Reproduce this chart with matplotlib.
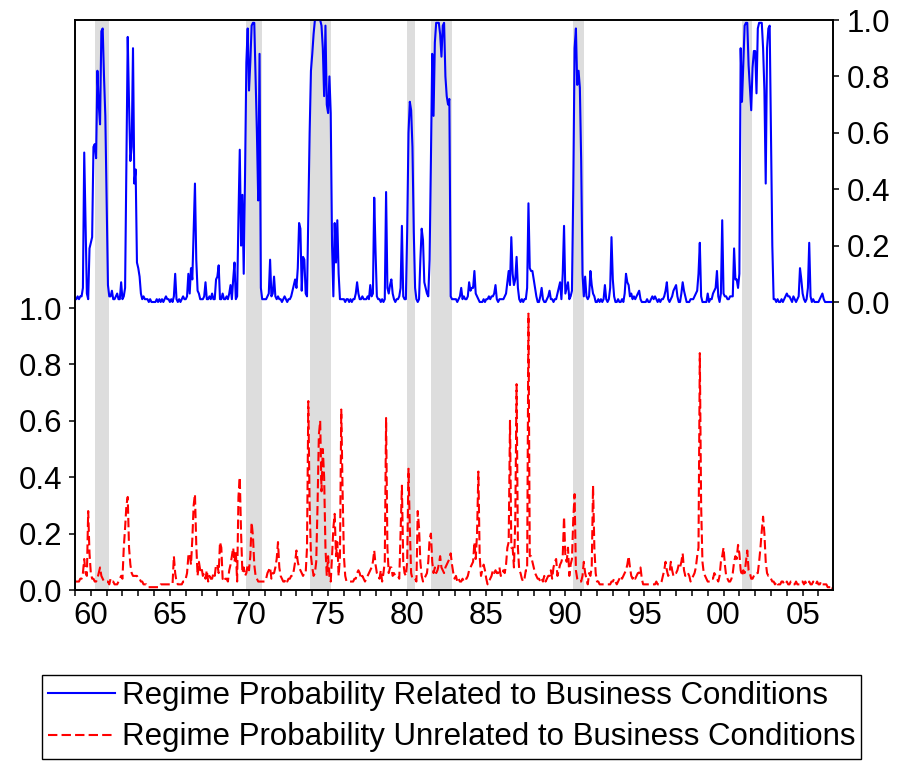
import numpy as np
import matplotlib
matplotlib.use("Agg")
from matplotlib import pyplot as plt
from matplotlib.lines import Line2D

first_year = 1959  # monthly data, 1959:01 - 2006:12

# regime probability related to business conditions (right scale)
business = [
    0.01, 0.01, 0.02, 0.01, 0.02, 0.02, 0.05, 0.53, 0.28, 0.03, 0.01, 0.19,  # 1959
    0.21, 0.23, 0.55, 0.56, 0.51, 0.82, 0.70, 0.63, 0.96, 0.97, 0.80, 0.66,  # 1960
    0.35, 0.06, 0.02, 0.02, 0.04, 0.01, 0.01, 0.02, 0.03, 0.01, 0.01, 0.07,
    0.01, 0.02, 0.05, 0.50, 0.94, 0.70, 0.50, 0.55, 0.90, 0.42, 0.47, 0.14,
    0.12, 0.09, 0.03, 0.01, 0.02, 0.01, 0.01, 0.01, 0.00, 0.01, 0.00, 0.00,
    0.00, 0.00, 0.01, 0.00, 0.01, 0.00, 0.01, 0.00, 0.01, 0.02, 0.01, 0.01,
    0.00, 0.01, 0.00, 0.02, 0.10, 0.01, 0.00, 0.01, 0.00, 0.01, 0.02, 0.01,  # 1965
    0.01, 0.02, 0.10, 0.03, 0.12, 0.08, 0.25, 0.42, 0.15, 0.04, 0.03, 0.01,
    0.01, 0.01, 0.02, 0.07, 0.01, 0.01, 0.02, 0.01, 0.03, 0.01, 0.01, 0.08,
    0.09, 0.13, 0.01, 0.01, 0.03, 0.01, 0.01, 0.02, 0.01, 0.03, 0.06, 0.01,
    0.08, 0.14, 0.01, 0.02, 0.30, 0.54, 0.20, 0.38, 0.10, 0.45, 0.85, 0.97,
    0.75, 0.85, 0.98, 0.99, 0.99, 0.80, 0.60, 0.36, 0.88, 0.05, 0.01, 0.01,  # 1970
    0.01, 0.01, 0.02, 0.03, 0.15, 0.02, 0.03, 0.09, 0.02, 0.01, 0.02, 0.01,
    0.01, 0.00, 0.01, 0.02, 0.01, 0.00, 0.01, 0.01, 0.02, 0.04, 0.06, 0.08,
    0.05, 0.12, 0.28, 0.26, 0.04, 0.16, 0.15, 0.03, 0.02, 0.30, 0.60, 0.82,
    0.88, 0.95, 1.00, 1.00, 1.00, 1.00, 1.00, 0.98, 0.90, 0.73, 0.98, 0.70,
    0.67, 0.80, 0.67, 0.20, 0.02, 0.28, 0.14, 0.29, 0.10, 0.01, 0.01, 0.01,  # 1975
    0.01, 0.00, 0.01, 0.01, 0.00, 0.01, 0.00, 0.01, 0.01, 0.03, 0.07, 0.03,
    0.01, 0.01, 0.02, 0.01, 0.01, 0.01, 0.02, 0.01, 0.06, 0.02, 0.03, 0.37,
    0.18, 0.02, 0.01, 0.01, 0.00, 0.01, 0.00, 0.01, 0.39, 0.05, 0.03, 0.06,
    0.08, 0.03, 0.01, 0.00, 0.01, 0.01, 0.02, 0.05, 0.27, 0.02, 0.01, 0.01,
    0.25, 0.60, 0.71, 0.68, 0.55, 0.25, 0.05, 0.01, 0.00, 0.01, 0.15, 0.26,  # 1980
    0.22, 0.07, 0.05, 0.03, 0.02, 0.15, 0.50, 0.88, 0.66, 0.92, 0.99, 0.99,
    0.99, 0.95, 0.87, 0.98, 0.99, 0.80, 0.73, 0.70, 0.72, 0.02, 0.01, 0.01,
    0.01, 0.01, 0.00, 0.01, 0.02, 0.05, 0.01, 0.02, 0.01, 0.01, 0.02, 0.07,
    0.04, 0.05, 0.05, 0.11, 0.03, 0.02, 0.01, 0.00, 0.00, 0.00, 0.01, 0.00,
    0.01, 0.01, 0.02, 0.01, 0.02, 0.02, 0.03, 0.06, 0.01, 0.00, 0.01, 0.01,  # 1985
    0.01, 0.01, 0.02, 0.03, 0.07, 0.11, 0.06, 0.23, 0.10, 0.06, 0.08, 0.16,
    0.05, 0.01, 0.00, 0.01, 0.00, 0.01, 0.01, 0.05, 0.35, 0.12, 0.11, 0.11,
    0.08, 0.05, 0.02, 0.00, 0.00, 0.02, 0.05, 0.01, 0.00, 0.00, 0.01, 0.02,
    0.04, 0.01, 0.01, 0.00, 0.01, 0.01, 0.03, 0.05, 0.07, 0.01, 0.10, 0.27,
    0.03, 0.05, 0.07, 0.01, 0.02, 0.04, 0.40, 0.90, 0.97, 0.77, 0.82, 0.76,  # 1990
    0.50, 0.10, 0.02, 0.09, 0.02, 0.01, 0.02, 0.11, 0.06, 0.03, 0.02, 0.00,
    0.00, 0.01, 0.00, 0.01, 0.00, 0.01, 0.06, 0.01, 0.00, 0.01, 0.05, 0.23,
    0.08, 0.02, 0.00, 0.00, 0.01, 0.00, 0.00, 0.01, 0.00, 0.03, 0.10, 0.07,
    0.06, 0.02, 0.03, 0.01, 0.02, 0.01, 0.02, 0.03, 0.04, 0.01, 0.00, 0.00,
    0.00, 0.00, 0.01, 0.00, 0.00, 0.01, 0.02, 0.01, 0.02, 0.01, 0.00, 0.01,  # 1995
    0.00, 0.01, 0.01, 0.02, 0.04, 0.07, 0.01, 0.00, 0.01, 0.02, 0.04, 0.05,
    0.06, 0.02, 0.00, 0.00, 0.03, 0.07, 0.04, 0.02, 0.00, 0.00, 0.00, 0.01,
    0.01, 0.01, 0.02, 0.03, 0.04, 0.10, 0.21, 0.02, 0.00, 0.00, 0.00, 0.00,
    0.03, 0.00, 0.01, 0.01, 0.03, 0.04, 0.05, 0.11, 0.02, 0.00, 0.03, 0.29,
    0.03, 0.02, 0.02, 0.01, 0.01, 0.02, 0.02, 0.02, 0.19, 0.08, 0.08, 0.05,  # 2000
    0.10, 0.90, 0.71, 0.85, 0.98, 0.99, 0.99, 0.84, 0.76, 0.68, 0.83, 0.89,
    0.89, 0.74, 0.97, 0.99, 0.99, 0.99, 0.90, 0.75, 0.42, 0.90, 0.97, 0.98,
    0.60, 0.20, 0.01, 0.01, 0.00, 0.01, 0.00, 0.00, 0.01, 0.00, 0.01, 0.02,
    0.03, 0.02, 0.02, 0.01, 0.00, 0.02, 0.01, 0.00, 0.01, 0.02, 0.12, 0.08,
    0.03, 0.01, 0.00, 0.01, 0.05, 0.21, 0.02, 0.00, 0.01, 0.00, 0.00, 0.00,  # 2005
    0.00, 0.01, 0.02, 0.03, 0.01, 0.00, 0.00, 0.00, 0.00, 0.00, 0.00, 0.00,
]

# regime probability unrelated to business conditions (left scale)
other = [
    0.03, 0.03, 0.03, 0.03, 0.04, 0.04, 0.06, 0.11, 0.06, 0.05, 0.28, 0.13,  # 1959
    0.06, 0.04, 0.04, 0.03, 0.03, 0.04, 0.06, 0.08, 0.05, 0.04, 0.03, 0.03,  # 1960
    0.03, 0.03, 0.02, 0.04, 0.03, 0.03, 0.02, 0.02, 0.02, 0.03, 0.04, 0.05,
    0.04, 0.15, 0.22, 0.30, 0.33, 0.15, 0.09, 0.06, 0.05, 0.05, 0.05, 0.05,
    0.04, 0.04, 0.03, 0.03, 0.02, 0.02, 0.02, 0.01, 0.01, 0.01, 0.01, 0.01,
    0.01, 0.01, 0.01, 0.01, 0.01, 0.02, 0.02, 0.02, 0.02, 0.02, 0.02, 0.02,
    0.02, 0.02, 0.02, 0.12, 0.06, 0.03, 0.02, 0.02, 0.02, 0.02, 0.03, 0.03,  # 1965
    0.04, 0.06, 0.12, 0.13, 0.09, 0.18, 0.30, 0.34, 0.16, 0.05, 0.10, 0.07,
    0.08, 0.05, 0.06, 0.04, 0.07, 0.03, 0.05, 0.04, 0.04, 0.06, 0.05, 0.09,
    0.09, 0.06, 0.17, 0.15, 0.04, 0.03, 0.04, 0.04, 0.03, 0.07, 0.09, 0.12,
    0.15, 0.10, 0.14, 0.03, 0.33, 0.40, 0.20, 0.06, 0.08, 0.05, 0.06, 0.09,
    0.07, 0.12, 0.24, 0.19, 0.09, 0.05, 0.04, 0.03, 0.03, 0.03, 0.03, 0.03,  # 1970
    0.03, 0.04, 0.06, 0.07, 0.08, 0.04, 0.06, 0.06, 0.08, 0.11, 0.17, 0.08,
    0.05, 0.04, 0.03, 0.03, 0.04, 0.03, 0.04, 0.04, 0.05, 0.05, 0.07, 0.10,
    0.14, 0.10, 0.08, 0.07, 0.06, 0.05, 0.06, 0.06, 0.15, 0.67, 0.30, 0.12,
    0.08, 0.05, 0.06, 0.10, 0.30, 0.55, 0.60, 0.35, 0.50, 0.40, 0.15, 0.05,
    0.12, 0.05, 0.03, 0.12, 0.22, 0.27, 0.12, 0.17, 0.05, 0.12, 0.64, 0.35,  # 1975
    0.12, 0.05, 0.03, 0.03, 0.03, 0.03, 0.03, 0.03, 0.04, 0.04, 0.06, 0.07,
    0.06, 0.04, 0.05, 0.04, 0.03, 0.04, 0.05, 0.06, 0.07, 0.08, 0.10, 0.14,
    0.09, 0.06, 0.05, 0.04, 0.07, 0.03, 0.06, 0.10, 0.61, 0.15, 0.06, 0.08,
    0.08, 0.05, 0.06, 0.05, 0.05, 0.05, 0.04, 0.20, 0.37, 0.10, 0.06, 0.05,
    0.10, 0.43, 0.22, 0.06, 0.04, 0.04, 0.04, 0.03, 0.28, 0.22, 0.10, 0.05,  # 1980
    0.03, 0.04, 0.05, 0.06, 0.10, 0.18, 0.20, 0.10, 0.06, 0.08, 0.06, 0.07,
    0.09, 0.12, 0.08, 0.07, 0.06, 0.08, 0.09, 0.10, 0.11, 0.13, 0.09, 0.06,
    0.04, 0.05, 0.03, 0.04, 0.03, 0.03, 0.04, 0.03, 0.04, 0.04, 0.05, 0.07,
    0.08, 0.09, 0.10, 0.17, 0.11, 0.20, 0.42, 0.12, 0.05, 0.07, 0.09, 0.07,
    0.04, 0.02, 0.03, 0.04, 0.05, 0.07, 0.06, 0.07, 0.06, 0.06, 0.08, 0.05,  # 1985
    0.05, 0.07, 0.06, 0.09, 0.15, 0.17, 0.60, 0.15, 0.15, 0.08, 0.25, 0.73,
    0.15, 0.07, 0.06, 0.04, 0.03, 0.04, 0.07, 0.07, 0.98, 0.12, 0.12, 0.10,
    0.08, 0.06, 0.05, 0.04, 0.04, 0.03, 0.04, 0.03, 0.05, 0.03, 0.04, 0.05,
    0.05, 0.07, 0.04, 0.08, 0.10, 0.11, 0.05, 0.07, 0.09, 0.10, 0.12, 0.26,
    0.12, 0.10, 0.15, 0.05, 0.09, 0.11, 0.25, 0.34, 0.07, 0.04, 0.03, 0.03,  # 1990
    0.03, 0.05, 0.10, 0.06, 0.04, 0.02, 0.06, 0.05, 0.08, 0.37, 0.15, 0.06,
    0.03, 0.03, 0.02, 0.02, 0.02, 0.02, 0.02, 0.02, 0.02, 0.02, 0.02, 0.03,
    0.03, 0.04, 0.03, 0.02, 0.03, 0.04, 0.05, 0.04, 0.05, 0.06, 0.07, 0.09,
    0.12, 0.08, 0.05, 0.04, 0.05, 0.04, 0.05, 0.06, 0.06, 0.08, 0.04, 0.02,
    0.02, 0.02, 0.02, 0.02, 0.02, 0.02, 0.02, 0.02, 0.02, 0.03, 0.02, 0.02,  # 1995
    0.02, 0.03, 0.05, 0.07, 0.10, 0.07, 0.05, 0.06, 0.10, 0.07, 0.05, 0.06,
    0.06, 0.07, 0.09, 0.08, 0.10, 0.13, 0.07, 0.05, 0.06, 0.06, 0.05, 0.03,
    0.04, 0.05, 0.06, 0.08, 0.12, 0.15, 0.84, 0.30, 0.10, 0.06, 0.05, 0.04,
    0.03, 0.03, 0.03, 0.04, 0.04, 0.06, 0.05, 0.04, 0.03, 0.05, 0.10, 0.12,
    0.15, 0.09, 0.05, 0.04, 0.03, 0.03, 0.04, 0.06, 0.10, 0.12, 0.11, 0.16,  # 2000
    0.13, 0.07, 0.05, 0.07, 0.06, 0.10, 0.14, 0.07, 0.06, 0.04, 0.04, 0.05,
    0.06, 0.06, 0.06, 0.10, 0.15, 0.21, 0.26, 0.20, 0.10, 0.06, 0.05, 0.05,
    0.04, 0.03, 0.03, 0.02, 0.03, 0.02, 0.02, 0.02, 0.03, 0.03, 0.02, 0.02,
    0.03, 0.02, 0.02, 0.03, 0.03, 0.02, 0.02, 0.03, 0.02, 0.02, 0.02, 0.03,
    0.03, 0.02, 0.03, 0.02, 0.02, 0.03, 0.02, 0.02, 0.03, 0.02, 0.02, 0.03,  # 2005
    0.02, 0.02, 0.03, 0.02, 0.02, 0.02, 0.02, 0.01, 0.01, 0.01, 0.00, 0.01,
]

# NBER recessions (shaded)
rec_start = [1960.25, 1969.83, 1973.83, 1980.00, 1981.50, 1990.50, 2001.17]
rec_end = [1961.12, 1970.83, 1975.17, 1980.50, 1982.83, 1991.17, 2001.83]

year_ticks = list(range(1960, 2006, 5))
year_labels = ['60', '65', '70', '75', '80', '85', '90', '95', '00', '05']
prob_ticks = [0.0, 0.2, 0.4, 0.6, 0.8, 1.0]
prob_labels = ['0.0', '0.2', '0.4', '0.6', '0.8', '1.0']

t = first_year + np.arange(len(business)) / 12.0

plt.rcParams['font.family'] = ['Liberation Sans', 'DejaVu Sans']
plt.rcParams['font.size'] = 22.5

W, H = 906, 761
fig = plt.figure(figsize=(W / 100, H / 100), dpi=100)
ax = fig.add_axes([75 / W, 1 - 590 / H, 758 / W, 570 / H])
ax2 = ax.twinx()

for a, b in zip(rec_start, rec_end):
    ax.axvspan(a, b, color='#dddddd', lw=0, zorder=0)

ax.plot(t, other, color='#ff0000', lw=1.5, dashes=(4.5, 2), zorder=2)
ax2.plot(t, business, color='#0000ff', lw=1.5, zorder=2)

span = 570 / 282.0
ax.set_xlim(1959.0, 2006.92)
ax.set_ylim(0, span)
ax2.set_ylim(1 - span, 1)

ax.set_xticks(year_ticks)
ax.set_xticklabels(year_labels)
ax.set_xticks(np.arange(1959, 2007), minor=True)
ax.set_yticks(prob_ticks)
ax.set_yticklabels(prob_labels)
ax2.set_yticks(prob_ticks)
ax2.set_yticklabels(prob_labels)

for a in (ax, ax2):
    for s in a.spines.values():
        s.set_linewidth(1.2)
    a.tick_params(which='both', direction='out', length=4, width=1.1, pad=4)
ax.tick_params(axis='y', pad=5)
ax2.tick_params(axis='y', pad=6)
ax.tick_params(axis='x', pad=4)

handles = [Line2D([], [], color='#0000ff', lw=1.5),
           Line2D([], [], color='#ff0000', lw=1.5, dashes=(4.5, 2))]
labels = ['Regime Probability Related to Business Conditions',
          'Regime Probability Unrelated to Business Conditions']
leg = fig.legend(handles, labels, loc='upper left',
                 bbox_to_anchor=(42 / W, 1 - 675 / H),
                 frameon=True, fancybox=False, framealpha=1,
                 edgecolor='black', borderpad=0.2, borderaxespad=0,
                 handlelength=2.15, handletextpad=0.2, labelspacing=0.36)
leg.get_frame().set_linewidth(1.0)

fig.savefig('out.png', dpi=100)
